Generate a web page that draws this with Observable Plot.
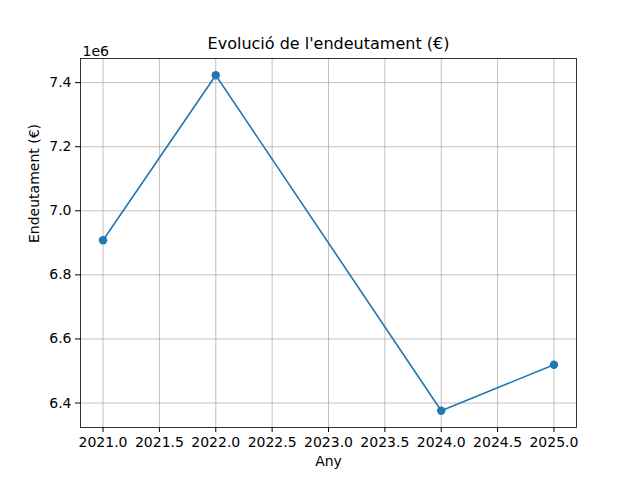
<!DOCTYPE html>
<html>
<head>
<meta charset="utf-8">
<script src="https://cdn.jsdelivr.net/npm/d3@7"></script>
<script src="https://cdn.jsdelivr.net/npm/@observablehq/plot@0.6"></script>
<style>
  html, body { margin: 0; padding: 0; background: #fff; }
</style>
</head>
<body>
<div id="chart"></div>
<script>
const years = [2021, 2022, 2024, 2025];
const debt = [6908000, 7423000, 6376000, 6519500];
const xTicks = [2021, 2021.5, 2022, 2022.5, 2023, 2023.5, 2024, 2024.5, 2025];
const yTicks = [6400000, 6600000, 6800000, 7000000, 7200000, 7400000];
const titleText = "Evolució de l'endeutament (€)";
const xLabel = "Any";
const yLabel = "Endeutament (€)";
const offsetText = "1e6";

const data = years.map((y, i) => ({year: y, debt: debt[i]}));

const xMin = d3.min(years), xMax = d3.max(years);
const xPad = (xMax - xMin) * 0.05;
const yMin = d3.min(debt), yMax = d3.max(debt);
const yPad = (yMax - yMin) * 0.05;

const gridStyle = {stroke: "#b0b0b0", strokeOpacity: 1, strokeWidth: 0.8};

const chart = Plot.plot({
  width: 640,
  height: 480,
  marginLeft: 80,
  marginRight: 64,
  marginTop: 58,
  marginBottom: 53,
  style: {fontFamily: "DejaVu Sans", fontSize: "14px", color: "black", background: "white"},
  x: {domain: [xMin - xPad, xMax + xPad]},
  y: {domain: [yMin - yPad, yMax + yPad]},
  marks: [
    Plot.gridX(xTicks, gridStyle),
    Plot.gridY(yTicks, gridStyle),
    Plot.axisX(xTicks, {tickFormat: d => d.toFixed(1), tickSize: 5, tickPadding: 5, label: null, fontSize: 14}),
    Plot.axisY(yTicks, {tickFormat: d => (d / 1e6).toFixed(1), tickSize: 5, tickPadding: 4, label: null, fontSize: 14}),
    Plot.frame({stroke: "black", strokeWidth: 0.8}),
    Plot.line(data, {x: "year", y: "debt", stroke: "#1f77b4", strokeWidth: 1.6}),
    Plot.dot(data, {x: "year", y: "debt", fill: "#1f77b4", r: 4.2}),
    Plot.text([titleText], {frameAnchor: "top", dy: -21, fontSize: 16}),
    Plot.text([offsetText], {frameAnchor: "top-left", textAnchor: "start", dx: 2, dy: -12, fontSize: 14}),
    Plot.text([yLabel], {frameAnchor: "left", rotate: -90, dx: -46, fontSize: 14}),
    Plot.text([xLabel], {frameAnchor: "bottom", dy: 38, fontSize: 14})
  ]
});
document.getElementById("chart").append(chart);
</script>
</body>
</html>
